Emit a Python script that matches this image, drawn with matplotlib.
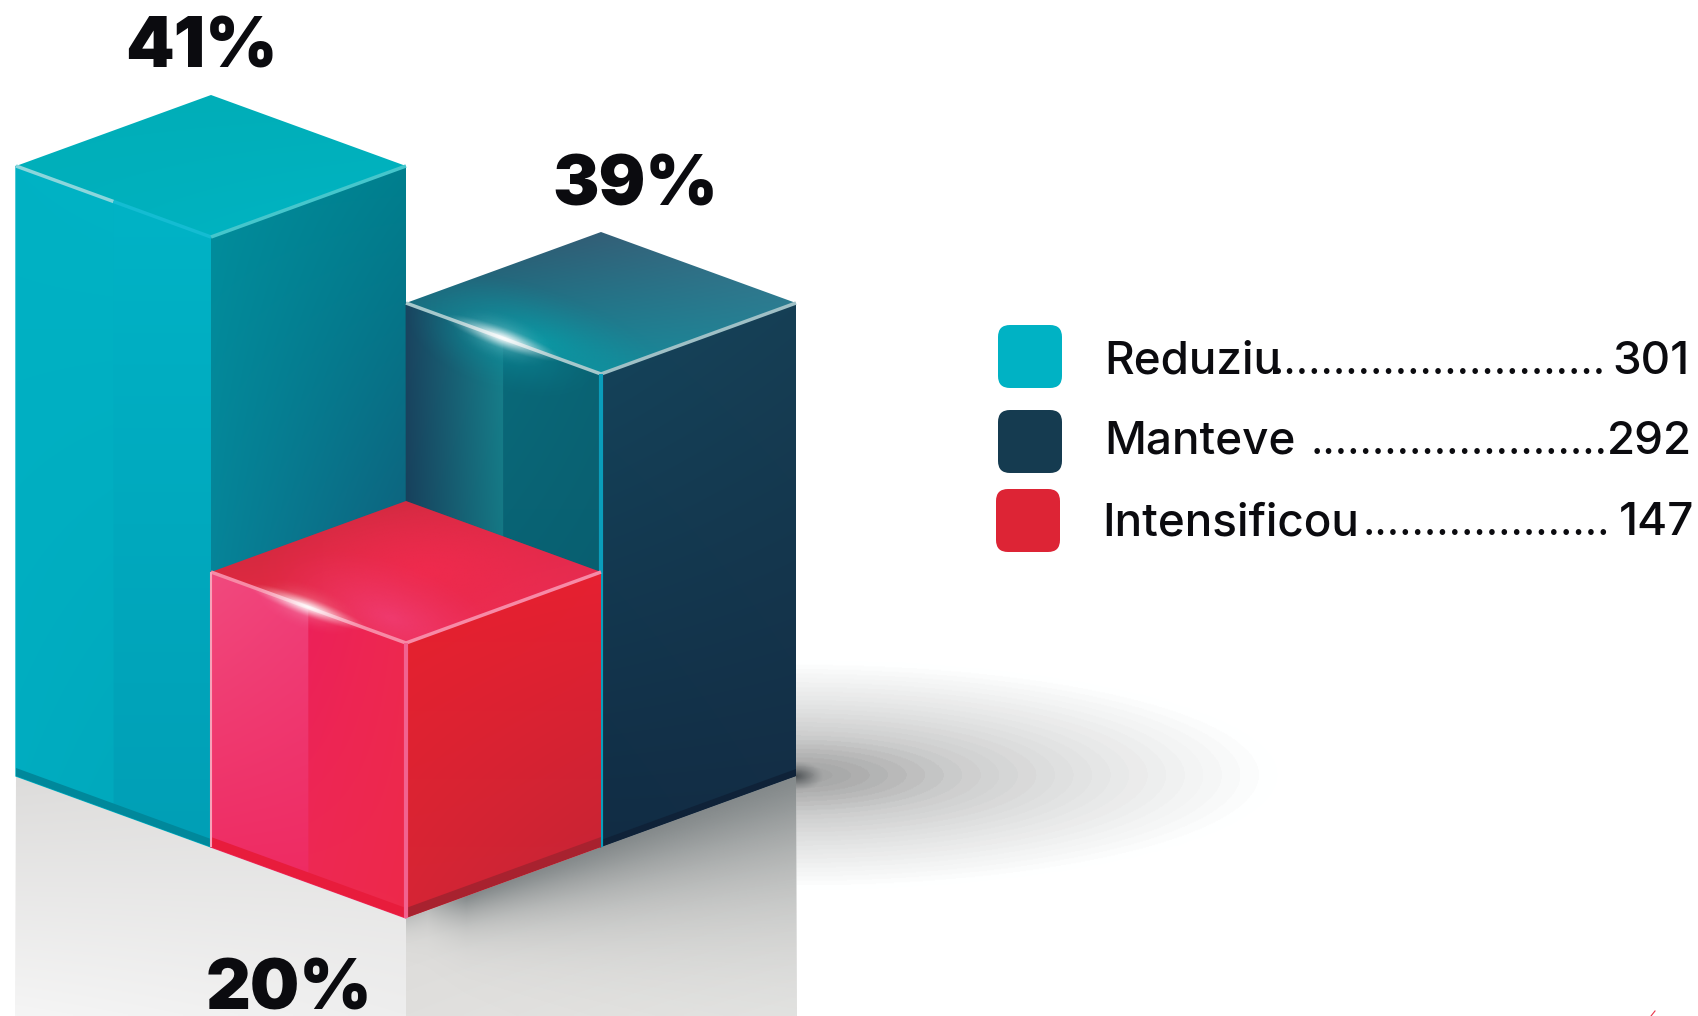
import numpy as np
import matplotlib
matplotlib.use('Agg')
import matplotlib.pyplot as plt
from matplotlib.colors import to_rgb
from matplotlib.patches import Polygon, FancyBboxPatch

# Data
categories = ['Reduziu', 'Manteve', 'Intensificou']
counts = [301, 292, 147]
percents = [41, 39, 20]
# drawn box heights are not proportional to the percentages in the original
box_heights = [610, 473, 275]
leader_dots = [27, 24, 20]

plt.rcParams['font.family'] = ['Inter', 'Lato', 'DejaVu Sans']

fig = plt.figure(figsize=(16.99, 10.16), dpi=100)
ax = fig.add_axes([0, 0, 1, 1])
ax.set_xlim(0, 1699)
ax.set_ylim(1016, 0)
ax.axis('off')

z = [1]


def nextz():
    z[0] += 1
    return z[0]


# isometric floor grid
def pt(u, v, h=0):
    return (406 + 195 * (u - v), 918 - 71 * (u + v) - h)


def grad(poly, tl, tr, bl, br):
    xs = [p[0] for p in poly]
    ys = [p[1] for p in poly]
    tx, ty = np.meshgrid(np.linspace(0, 1, 80), np.linspace(0, 1, 80))
    tx = tx[..., None]
    ty = ty[..., None]
    c = [np.array(to_rgb(k)) for k in (tl, tr, bl, br)]
    img = (c[0] * (1 - tx) + c[1] * tx) * (1 - ty) + (c[2] * (1 - tx) + c[3] * tx) * ty
    im = ax.imshow(img, extent=(min(xs), max(xs), max(ys), min(ys)), aspect='auto',
                   interpolation='bilinear', zorder=nextz())
    im.set_clip_path(Polygon(poly, closed=True, transform=ax.transData))


def glow(cx, cy, a, b, angle, color, alpha, poly=None, power=2.0):
    r = max(a, b)
    xx, yy = np.meshgrid(np.linspace(cx - r, cx + r, 200), np.linspace(cy - r, cy + r, 200))
    t = np.radians(angle)
    dx = (xx - cx) * np.cos(t) + (yy - cy) * np.sin(t)
    dy = -(xx - cx) * np.sin(t) + (yy - cy) * np.cos(t)
    d = np.sqrt((dx / a) ** 2 + (dy / b) ** 2)
    img = np.zeros(xx.shape + (4,))
    img[..., :3] = to_rgb(color)
    img[..., 3] = alpha * np.clip(1 - d, 0, 1) ** power
    im = ax.imshow(img, extent=(cx - r, cx + r, cy + r, cy - r), aspect='auto',
                   interpolation='bilinear', zorder=nextz())
    if poly is not None:
        im.set_clip_path(Polygon(poly, closed=True, transform=ax.transData))


def edge(p, q, color, lw=2.5):
    ax.plot([p[0], q[0]], [p[1], q[1]], color=color, lw=lw, solid_capstyle='butt', zorder=nextz())


def mix(p, q, t):
    return (p[0] + (q[0] - p[0]) * t, p[1] + (q[1] - p[1]) * t)


def backing(poly, color):
    # stops the page showing through the seam between two strips
    ax.add_patch(Polygon(poly, closed=True, fc=color, ec=color, lw=1, zorder=nextz()))


# Banded elliptical shadow on the white page
xx, yy = np.meshgrid(np.linspace(790, 1290, 500), np.linspace(650, 910, 300))
d = np.sqrt(((xx - 795) / 483) ** 2 + ((yy - 775) / 115) ** 2)
d = np.ceil(d * 26) / 26
stops = [0, 0.146, 0.37, 0.59, 0.82, 0.95, 1.0]
greys = [0.62, 0.68, 0.81, 0.885, 0.95, 0.985, 1.0]
g = np.interp(d, stops, greys)
img = np.dstack([g * 0.997, g, g])
img = np.where(d[..., None] > 1, 1.0, img)
ax.imshow(np.clip(img, 0, 1), extent=(790, 1290, 910, 650), aspect='auto', interpolation='bilinear', zorder=nextz())
glow(796, 776, 28, 15, 0, '#2c3236', 0.7, power=1.2)

# Floor under the boxes
floor_left = [pt(0, 2), pt(0, 0), (406, 1016), (15, 1016)]
floor_right = [pt(0, 0), pt(2, 0), (797, 1016), (406, 1016)]
grad(floor_left, '#dddcdb', '#e2e1e0', '#f5f5f5', '#eeeeee')
grad(floor_right, '#d6d5d3', '#d9d8d6', '#e0dfdd', '#e6e6e4')

# Shadow thrown on the floor, right of the boxes
xx, yy = np.meshgrid(np.linspace(406, 797, 300), np.linspace(770, 1016, 200))
base = 918 - (xx - 406) * 142 / 390
depth = 14 + (xx - 406) * 0.22
shade = np.clip(yy - base, 0, None) / depth
img = np.zeros(xx.shape + (4,))
img[..., :3] = to_rgb('#6f7678')
img[..., 3] = 0.8 * np.exp(-shade ** 1.3) * np.clip((xx - 406) / 60, 0.35, 1)
im = ax.imshow(img, extent=(406, 797, 1016, 770), aspect='auto', interpolation='bilinear', zorder=nextz())
im.set_clip_path(Polygon(floor_right, closed=True, transform=ax.transData))

# Teal box
u, v, h = 0, 1, box_heights[0]
L, F, R, B = pt(u, v + 1, h), pt(u, v, h), pt(u + 1, v, h), pt(u + 1, v + 1, h)
Lb, Fb, Rb = pt(u, v + 1), pt(u, v), pt(u + 1, v)
M, Mb = mix(L, F, 0.5), mix(Lb, Fb, 0.5)
backing([L, F, Fb, Lb], '#00b0c2')
grad([L, M, Mb, Lb], '#00b2c4', '#00b3c5', '#00acc0', '#00a9bd')
grad([M, F, Fb, Mb], '#00b3c6', '#00b3c6', '#009fb6', '#009fb6')
grad([F, R, Rb, Fb], '#008e9c', '#007f8e', '#0a7d96', '#1a4c72')
grad([L, B, R, F], '#00aeb8', '#00aeb8', '#00b0bd', '#00b5c4')
ax.add_patch(Polygon([Lb, Fb, (Fb[0], Fb[1] - 8), (Lb[0], Lb[1] - 8)], color='#00889b', lw=0, zorder=nextz()))
edge(L, M, '#8cd6dc')
edge(M, F, '#14bcd2')
edge(F, R, '#45c6cc')

# Navy box
u, v, h = 1, 0, box_heights[1]
L, F, R, B = pt(u, v + 1, h), pt(u, v, h), pt(u + 1, v, h), pt(u + 1, v + 1, h)
Lb, Fb, Rb = pt(u, v + 1), pt(u, v), pt(u + 1, v)
M, Mb = mix(L, F, 0.5), mix(Lb, Fb, 0.5)
backing([L, F, Fb, Lb], '#0e5a6e')
grad([L, M, Mb, Lb], '#1a4560', '#17808c', '#143c58', '#126f7c')
grad([M, F, Fb, Mb], '#0a6a7a', '#0a6474', '#07596c', '#07596c')
grad([F, R, Rb, Fb], '#15455c', '#163f55', '#112c44', '#132c44')
top = [L, B, R, F]
grad(top, '#2b5068', '#3b6e86', '#0a8b98', '#1f8a9c')
glow(F[0] - 60, F[1] - 32, 150, 55, 20, '#0b98a4', 0.95, top, power=1.5)
glow(M[0], M[1] + 5, 105, 50, 20, '#0a8c9a', 0.8, [L, F, Fb, Lb], power=1.5)
ax.add_patch(Polygon([Rb, Fb, (Fb[0], Fb[1] - 7), (Rb[0], Rb[1] - 7)], color='#0f2238', lw=0, zorder=nextz()))
edge(L, F, '#a6c8cc')
edge(F, R, '#9fc0c6')
edge(F, Fb, '#0a9dbb', lw=3)
glow(M[0], M[1], 65, 11, 20, '#ffffff', 1.0, power=1.4)
glow(M[0], M[1], 62, 28, 20, '#ffffff', 0.45, power=2.2)

# Red box, in front of the other two
u, v, h = 0, 0, box_heights[2]
L, F, R, B = pt(u, v + 1, h), pt(u, v, h), pt(u + 1, v, h), pt(u + 1, v + 1, h)
Lb, Fb, Rb = pt(u, v + 1), pt(u, v), pt(u + 1, v)
M, Mb = mix(L, F, 0.5), mix(Lb, Fb, 0.5)
backing([L, F, Fb, Lb], '#ee2c5e')
grad([L, M, Mb, Lb], '#f14a7e', '#f0407a', '#ee2b62', '#ee2b62')
grad([M, F, Fb, Mb], '#ec2059', '#ee2850', '#ee2a52', '#ee294a')
grad([F, R, Rb, Fb], '#e8202e', '#e62031', '#d52535', '#c22535')
top = [L, B, R, F]
grad(top, '#c62a3c', '#dc2a44', '#ec2842', '#f02f5e')
glow(B[0] + 20, B[1] + 70, 170, 75, 0, '#f02a4e', 0.95, top, power=0.9)
glow(F[0] - 15, F[1] - 25, 130, 60, 20, '#f03c72', 0.9, top, power=1.4)
ax.add_patch(Polygon([Lb, Fb, (Fb[0], Fb[1] - 10), (Lb[0], Lb[1] - 10)], color='#e81c3c', lw=0, zorder=nextz()))
ax.add_patch(Polygon([Rb, Fb, (Fb[0], Fb[1] - 10), (Rb[0], Rb[1] - 10)], color='#a8222f', lw=0, zorder=nextz()))
edge(L, F, '#f78aa6')
edge(F, R, '#f78aa6')
edge(F, Fb, '#f2628f', lw=3)
edge(L, Lb, '#f8a0b8', lw=1.5)
glow(M[0], M[1], 65, 10, 20, '#ffffff', 1.0, power=1.4)
glow(M[0], M[1], 62, 26, 20, '#ffffff', 0.4, power=2.2)

# Percent labels
pct_pos = [(201, 67), (635, 206), (289, 1009)]
for p, (x, y) in zip(percents, pct_pos):
    ax.text(x, y, f'{p}%', fontsize=50, fontweight='black', color='#0b0b0f',
            ha='center', va='baseline', zorder=nextz())

# Legend
swatch_colors = ['#00b2c4', '#153b50', '#dd2435']
swatch_x = [998, 998, 996]
swatch_y = [325, 410, 489]
text_x = [1104, 1104, 1102]
baselines = [374, 454, 535]
num_right = [1690, 1692, 1694]
for i, name in enumerate(categories):
    ax.add_patch(FancyBboxPatch((swatch_x[i] + 12, swatch_y[i] + 12), 40, 39,
                                boxstyle='round,pad=12,rounding_size=12',
                                fc=swatch_colors[i], ec='none', zorder=nextz()))
    ax.text(text_x[i], baselines[i], name, fontsize=33, fontweight='medium', color='#0b0b0f',
            ha='left', va='baseline', zorder=nextz())
    ax.text(num_right[i], baselines[i], str(counts[i]), fontsize=33, fontweight='medium', color='#0b0b0f',
            ha='right', va='baseline', zorder=nextz())
    ax.text(num_right[i] - 84, baselines[i], '.' * leader_dots[i], fontsize=31, color='#0b0b0f',
            ha='right', va='baseline', zorder=nextz())

# stray tick at the bottom edge of the original
ax.plot([1651, 1655], [1016, 1011], color='#e8354a', lw=0.8, zorder=nextz())

ax.set_xlim(0, 1699)
ax.set_ylim(1016, 0)
fig.savefig('out.png', dpi=100, facecolor='white')
